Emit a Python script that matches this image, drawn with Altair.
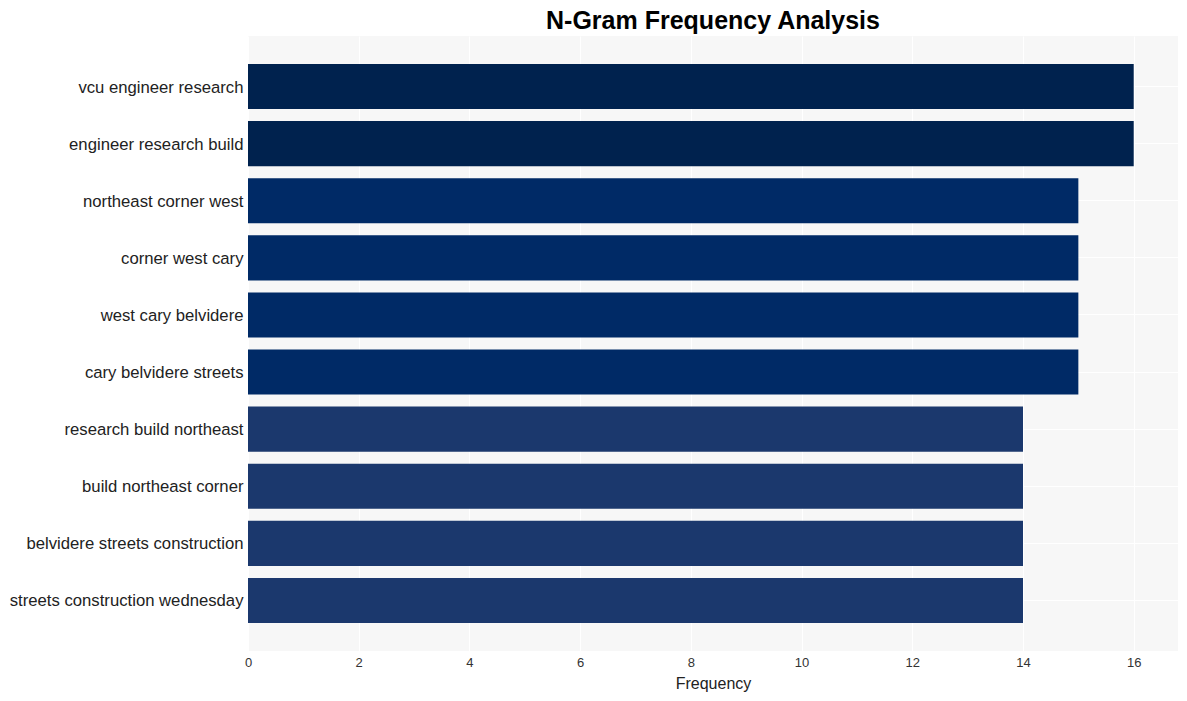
import altair as alt
import pandas as pd

ngrams = [
    "vcu engineer research",
    "engineer research build",
    "northeast corner west",
    "corner west cary",
    "west cary belvidere",
    "cary belvidere streets",
    "research build northeast",
    "build northeast corner",
    "belvidere streets construction",
    "streets construction wednesday",
]
freqs = [16, 16, 15, 15, 15, 15, 14, 14, 14, 14]
color_levels = [14, 15, 16]
color_values = ["#1B386D", "#002A66", "#00224E"]

df = pd.DataFrame({"ngram": ngrams, "freq": freqs})

chart = alt.Chart(df).mark_bar().encode(
    x=alt.X("freq:Q",
            scale=alt.Scale(domain=[0, 16.8], nice=False, zero=True),
            axis=alt.Axis(title="Frequency", values=list(range(0, 17, 2)),
                          grid=True, gridColor="white", gridWidth=1.2,
                          domain=False, ticks=False, labelFontSize=13,
                          labelColor="#333333", labelPadding=5, labelFlush=False,
                          titleFontSize=16, titleColor="#222222",
                          titleFontWeight="normal", titlePadding=6,
                          labelFont="Liberation Sans", titleFont="Liberation Sans")),
    y=alt.Y("ngram:N", sort=ngrams,
            scale=alt.Scale(paddingInner=0.21, paddingOuter=0.49),
            axis=alt.Axis(title=None, grid=True, gridColor="white", gridWidth=1.2,
                          tickBand="center",
                          domain=False, ticks=False, labelFontSize=16.7,
                          labelColor="#222222", labelPadding=5, labelLimit=400,
                          labelOffset=1,
                          labelFont="Liberation Sans")),
    color=alt.Color("freq:O", scale=alt.Scale(domain=color_levels, range=color_values),
                    legend=None),
).properties(
    width=930,
    height=615,
    title=alt.TitleParams("N-Gram Frequency Analysis", fontSize=25, fontWeight="bold",
                          font="Liberation Sans", color="#000000", anchor="middle",
                          offset=2),
    autosize=alt.AutoSizeParams(type="none"),
    padding={"left": 248, "top": 36, "right": 9, "bottom": 50},
    view=alt.ViewBackground(fill="#F7F7F7", strokeWidth=0, strokeOpacity=0),
).configure_view(
    fill="#F7F7F7", strokeWidth=0, strokeOpacity=0
).configure(background="white")

chart.save("out.html", embed_options={"renderer": "svg", "actions": False})
